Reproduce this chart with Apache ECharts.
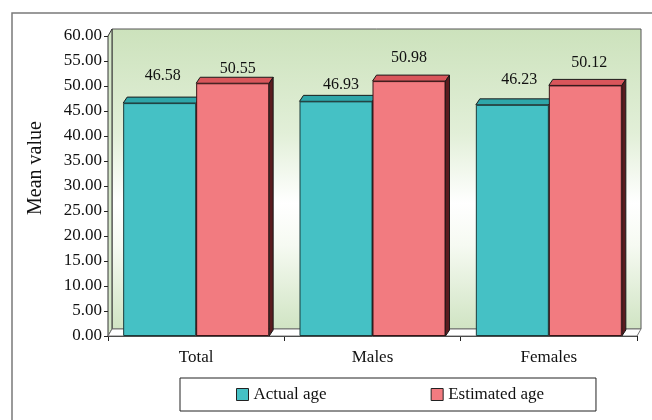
<!DOCTYPE html>
<html><head><meta charset="utf-8">
<script src="https://cdn.jsdelivr.net/npm/echarts@6/dist/echarts.min.js"></script>
<style>html,body{margin:0;padding:0;background:#fff}#c{width:652px;height:420px}</style>
</head><body><div id="c"></div>
<script>
var categories = ['Total', 'Males', 'Females'];
var actualAge = [46.58, 46.93, 46.23];
var estimatedAge = [50.55, 50.98, 50.12];
var yTicks = { min: 0, max: 60, interval: 5 };

// label nudges (styling only), [dx, dy] in px
var actualLabelNudge = [[3, -6], [5, 4], [7, -4]];
var estimatedLabelNudge = [[5, 7], [0, -2], [4, -2]];

var FONT = '"Liberation Serif", "Times New Roman", serif';
var DX = 4, DY = 6, GAP = 0.172;
var chart = echarts.init(document.getElementById('c'));

function facesRenderer(seriesIdx, topColor, sideColor) {
  return function (params, api) {
    var idx = api.value(0), val = api.value(1);
    var c = api.coord([idx, val]);
    var base = api.coord([idx, 0]);
    var band = api.size([1, 0])[0];
    var bw = band * (1 - GAP) / 2;
    var x0 = seriesIdx === 0 ? c[0] - bw : c[0];
    var x1 = x0 + bw, y = c[1], yb = base[1];
    return {
      type: 'group',
      children: [
        { type: 'polygon', shape: { points: [[x0, y], [x1, y], [x1 + DX, y - DY], [x0 + DX, y - DY]] },
          style: { fill: topColor, stroke: '#1a1a1a', lineWidth: 1 } },
        { type: 'polygon', shape: { points: [[x1, y], [x1 + DX, y - DY], [x1 + DX, yb - DY], [x1, yb]] },
          style: { fill: sideColor, stroke: '#1a1a1a', lineWidth: 1 } }
      ]
    };
  };
}

function wallRenderer(params, api) {
  var cs = params.coordSys;
  var x = cs.x, y = cs.y, w = cs.width, h = cs.height;
  return {
    type: 'group',
    children: [
      { type: 'rect', shape: { x: x + DX, y: y - DY - 1, width: w, height: h },
        style: { fill: { type: 'linear', x: 0, y: 0, x2: 0, y2: 1, colorStops: [
          { offset: 0, color: '#cce2bc' }, { offset: 0.35, color: '#e2efd8' },
          { offset: 0.58, color: '#ffffff' }, { offset: 0.72, color: '#f6faf2' },
          { offset: 1, color: '#d0e4c3' }] }, stroke: '#555', lineWidth: 1 } },
      { type: 'polygon', shape: { points: [[x, y], [x + DX, y - DY - 1], [x + DX, y + h - DY - 1], [x, y + h]] },
        style: { fill: '#d6e8ca', stroke: '#333', lineWidth: 1 } },
      { type: 'polygon', shape: { points: [[x, y + h], [x + DX, y + h - DY - 1], [x + w + DX, y + h - DY - 1], [x + w, y + h]] },
        style: { fill: '#ffffff', stroke: '#777', lineWidth: 1 } }
    ]
  };
}

var tealData = actualAge.map(function (v, i) { return [i, v]; });
var redData = estimatedAge.map(function (v, i) { return [i, v]; });

function labelled(values, nudges) {
  return values.map(function (v, i) {
    return { value: v, label: { offset: nudges[i] } };
  });
}
var labelStyle = { show: true, position: 'top', distance: 13,
  fontFamily: FONT, fontSize: 16, color: '#111', formatter: function (p) { return p.value.toFixed(2); } };

chart.setOption({
  animation: false,
  grid: { left: 108, right: 15, top: 36, bottom: 84 },
  graphic: [
    { type: 'rect', shape: { x: 12, y: 13, width: 700, height: 450 }, style: { fill: 'none', stroke: '#7a7a7a', lineWidth: 1.5 }, z: -10, silent: true },
    { type: 'text', x: 36, y: 168, rotation: Math.PI / 2,
      style: { text: 'Mean value', fontFamily: FONT, fontSize: 20, fill: '#111', textAlign: 'center', textVerticalAlign: 'middle' } }
  ],
  legend: {
    data: ['Actual age', 'Estimated age'],
    left: 180, top: 378, orient: 'horizontal',
    borderColor: '#222', borderWidth: 1, padding: [8, 52, 8, 56],
    itemWidth: 12, itemHeight: 12, itemGap: 104, icon: 'rect',
    itemStyle: { borderColor: '#222', borderWidth: 1 },
    textStyle: { fontFamily: FONT, fontSize: 17, color: '#111' }
  },
  xAxis: {
    type: 'category', data: categories,
    axisLine: { lineStyle: { color: '#222', width: 1 } },
    axisTick: { show: true, length: 5, lineStyle: { color: '#222' } },
    axisLabel: { fontFamily: FONT, fontSize: 17, color: '#111', margin: 13 }
  },
  yAxis: {
    type: 'value', min: yTicks.min, max: yTicks.max, interval: yTicks.interval,
    axisLine: { show: true, lineStyle: { color: '#222', width: 1 } },
    axisTick: { show: true, length: 4, lineStyle: { color: '#222' } },
    splitLine: { show: false },
    axisLabel: { fontFamily: FONT, fontSize: 17, color: '#111', margin: 6,
      formatter: function (v) { return v.toFixed(2); } }
  },
  series: [
    { type: 'custom', name: 'wall', data: [[0, 0]], renderItem: wallRenderer, silent: true, z: 1 },
    { type: 'custom', name: 'tealFaces', data: tealData, renderItem: facesRenderer(0, '#2ea6a9', '#1f6e70'), silent: true, z: 2 },
    { type: 'bar', name: 'Actual age', data: labelled(actualAge, actualLabelNudge), barGap: '0%', barCategoryGap: '17.2%',
      itemStyle: { color: '#45c1c5', borderColor: '#1c3b3b', borderWidth: 1 }, label: labelStyle, z: 2 },
    { type: 'custom', name: 'redFaces', data: redData, renderItem: facesRenderer(1, '#d9565b', '#5a1c1f'), silent: true, z: 2 },
    { type: 'bar', name: 'Estimated age', data: labelled(estimatedAge, estimatedLabelNudge), barGap: '0%', barCategoryGap: '17.2%',
      itemStyle: { color: '#f27b80', borderColor: '#3a1416', borderWidth: 1 }, label: labelStyle, z: 2 }
  ]
});
</script></body></html>
